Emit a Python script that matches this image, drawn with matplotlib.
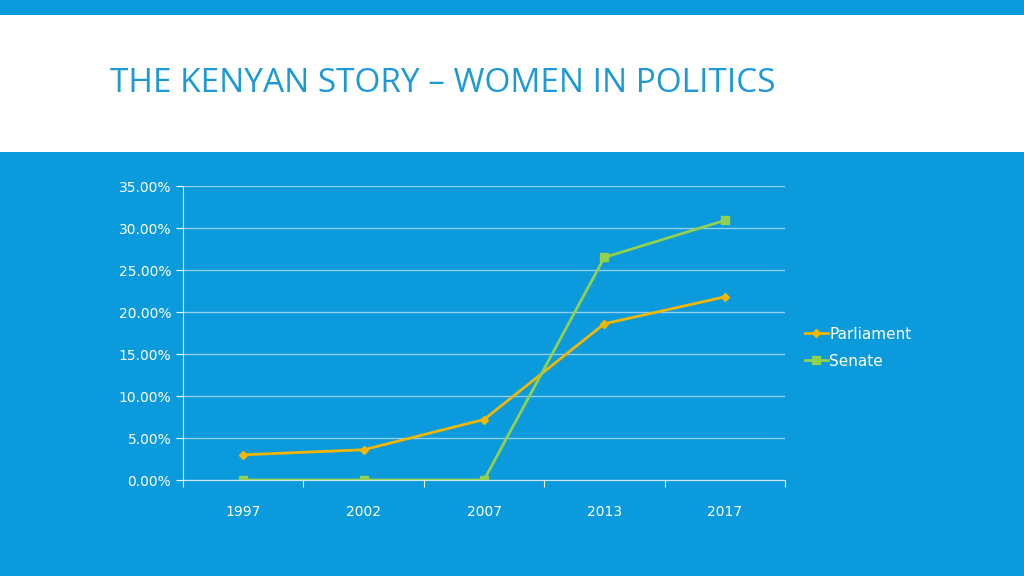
import matplotlib
matplotlib.use("Agg")
import matplotlib.pyplot as plt
from matplotlib.patches import Rectangle

years = ["1997", "2002", "2007", "2013", "2017"]
parliament = [3.0, 3.6, 7.2, 18.6, 21.8]
senate = [0.0, 0.0, 0.0, 26.5, 30.9]
yticks = [0, 5, 10, 15, 20, 25, 30, 35]

bg = "#0B9ADC"
fig = plt.figure(figsize=(10.24, 5.76), dpi=100, facecolor=bg)
fig.patches.append(Rectangle((0, (576-152)/576), 1, 137/576, transform=fig.transFigure,
                             facecolor="white", edgecolor="none", zorder=0))
fig.text(110/1024, 1-83/576, "THE KENYAN STORY – WOMEN IN POLITICS", color="#1B9AD6",
         fontsize=24, va="center", ha="left", family="Open Sans")

ax = fig.add_axes([183/1024, 96/576, 602/1024, 294/576])
ax.set_facecolor("none")
x = range(len(years))
ax.plot(x, parliament, color="#F2B705", marker="D", markersize=4, lw=2, label="Parliament")
ax.plot(x, senate, color="#92D050", marker="s", markersize=6, lw=2, label="Senate")
ax.set_xlim(-0.5, 4.5)
ax.set_ylim(0, 35)
ax.set_yticks(yticks)
ax.set_yticklabels([f"{v:.2f}%" for v in yticks], color="white", fontsize=10)
ax.set_xticks([i - 0.5 for i in range(6)], minor=False)
ax.set_xticklabels([])
ax.set_xticks(list(x), minor=True)
ax.set_xticklabels(years, minor=True, color="white", fontsize=10)
ax.tick_params(axis="x", which="minor", length=0, pad=18)
ax.tick_params(axis="x", which="major", length=5, color="white")
ax.tick_params(axis="y", length=5, color="white")
ax.grid(axis="y", color="#8FD0F0", lw=1)
ax.set_axisbelow(True)
for s in ["top", "right"]:
    ax.spines[s].set_visible(False)
for s in ["left", "bottom"]:
    ax.spines[s].set_color("#CFEAF7")
leg = ax.legend(loc="center left", bbox_to_anchor=(1.01, 0.45), frameon=False,
                fontsize=11, handlelength=1.5, handletextpad=0.1, labelspacing=0.8)
for t in leg.get_texts():
    t.set_color("white")
fig.savefig("out.png", dpi=100, facecolor=bg)
